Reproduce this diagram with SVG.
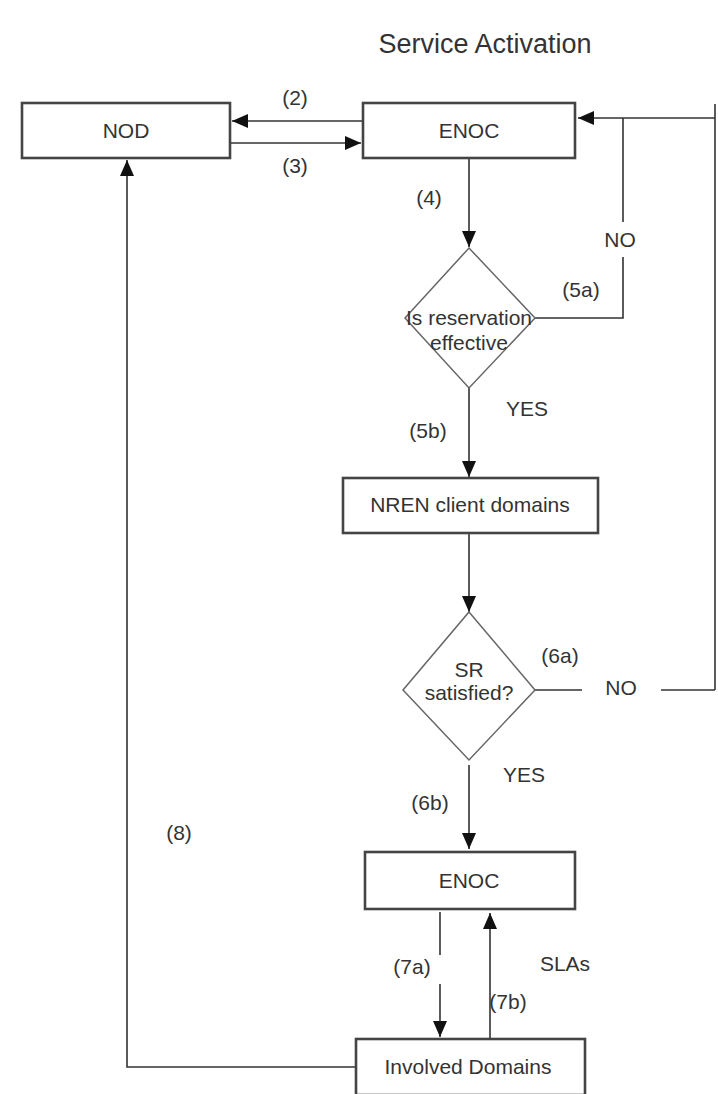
<svg xmlns="http://www.w3.org/2000/svg" width="718" height="1094" viewBox="0 0 718 1094">
  <defs>
    <marker id="arrowL" viewBox="0 0 16 14" refX="16" refY="7" markerWidth="16" markerHeight="14" markerUnits="userSpaceOnUse" orient="auto">
      <path d="M0,0 L16,7 L0,14 z" fill="#111"/>
    </marker>
    <style>
      .box { fill: #fff; stroke: #444; stroke-width: 2.6; }
      .dia { fill: #fff; stroke: #666; stroke-width: 1.5; }
      .ln { fill: none; stroke: #333; stroke-width: 1.6; }
      .t { font-family: "Liberation Sans", Arial, sans-serif; font-size: 21px; fill: #333; text-anchor: middle; }
      .title { font-size: 27px; }
    </style>
  </defs>
  <rect width="718" height="1094" fill="#fff"/>

  <text class="t title" x="485" y="53">Service Activation</text>

  <!-- connectors -->
  <g id="connectors">
    <!-- (2) ENOC -> NOD -->
    <line class="ln" x1="363" y1="121" x2="232" y2="121" marker-end="url(#arrowL)"/>
    <!-- (3) NOD -> ENOC -->
    <line class="ln" x1="230" y1="143" x2="361" y2="143" marker-end="url(#arrowL)"/>
    <!-- (4) ENOC -> decision 1 -->
    <line class="ln" x1="469" y1="158" x2="469" y2="247" marker-end="url(#arrowL)"/>
    <!-- (5a) NO loop back to ENOC -->
    <polyline class="ln" points="535,318 623,318 623,257"/>
    <line class="ln" x1="623" y1="222" x2="623" y2="118"/>
    <!-- feedback return into ENOC -->
    <line class="ln" x1="715" y1="118" x2="578" y2="118" marker-end="url(#arrowL)"/>
    <line class="ln" x1="715" y1="104" x2="715" y2="690"/>
    <!-- (5b) YES -> NREN -->
    <line class="ln" x1="469" y1="388" x2="469" y2="477" marker-end="url(#arrowL)"/>
    <!-- NREN -> decision 2 -->
    <line class="ln" x1="469" y1="533" x2="469" y2="612" marker-end="url(#arrowL)"/>
    <!-- (6a) NO -->
    <line class="ln" x1="535" y1="690" x2="582" y2="690"/>
    <line class="ln" x1="661" y1="690" x2="715" y2="690"/>
    <!-- (6b) YES -> ENOC -->
    <line class="ln" x1="469" y1="765" x2="469" y2="849" marker-end="url(#arrowL)"/>
    <!-- (7a) ENOC -> Involved Domains -->
    <line class="ln" x1="440" y1="912" x2="440" y2="955"/>
    <line class="ln" x1="440" y1="984" x2="440" y2="1037" marker-end="url(#arrowL)"/>
    <!-- (7b) Involved Domains -> ENOC -->
    <line class="ln" x1="490" y1="1040" x2="490" y2="913" marker-end="url(#arrowL)"/>
    <!-- (8) Involved Domains -> NOD -->
    <polyline class="ln" points="355,1067 127,1067 127,160" marker-end="url(#arrowL)"/>
  </g>

  <!-- nodes -->
  <g id="nod">
    <rect class="box" x="22" y="103" width="208" height="55"/>
    <text class="t" x="126" y="138">NOD</text>
  </g>
  <g id="enoc-top">
    <rect class="box" x="363" y="103" width="212" height="55"/>
    <text class="t" x="469" y="138">ENOC</text>
  </g>
  <g id="decision-reservation">
    <polygon class="dia" points="469,248 535,318 469,388 405,318"/>
    <text class="t" x="469" y="325">Is reservation</text>
    <text class="t" x="469" y="350">effective</text>
  </g>
  <g id="nren">
    <rect class="box" x="343" y="478" width="255" height="55"/>
    <text class="t" x="470" y="512">NREN client domains</text>
  </g>
  <g id="decision-sr">
    <polygon class="dia" points="469,612 535,690 469,760 403,690"/>
    <text class="t" x="469" y="677">SR</text>
    <text class="t" x="469" y="700">satisfied?</text>
  </g>
  <g id="enoc-bottom">
    <rect class="box" x="365" y="852" width="210" height="57"/>
    <text class="t" x="469" y="888">ENOC</text>
  </g>
  <g id="involved">
    <rect class="box" x="356" y="1039" width="229" height="56"/>
    <text class="t" x="468" y="1074">Involved Domains</text>
  </g>

  <!-- labels -->
  <g id="labels">
    <text class="t" x="295" y="105">(2)</text>
    <text class="t" x="295" y="173">(3)</text>
    <text class="t" x="429" y="205">(4)</text>
    <text class="t" x="620" y="247">NO</text>
    <text class="t" x="581" y="297">(5a)</text>
    <text class="t" x="527" y="416">YES</text>
    <text class="t" x="428" y="438">(5b)</text>
    <text class="t" x="560" y="663">(6a)</text>
    <text class="t" x="621" y="695">NO</text>
    <text class="t" x="524" y="782">YES</text>
    <text class="t" x="430" y="810">(6b)</text>
    <text class="t" x="179" y="840">(8)</text>
    <text class="t" x="412" y="974">(7a)</text>
    <text class="t" x="565" y="971">SLAs</text>
    <text class="t" x="508" y="1009">(7b)</text>
  </g>
</svg>
